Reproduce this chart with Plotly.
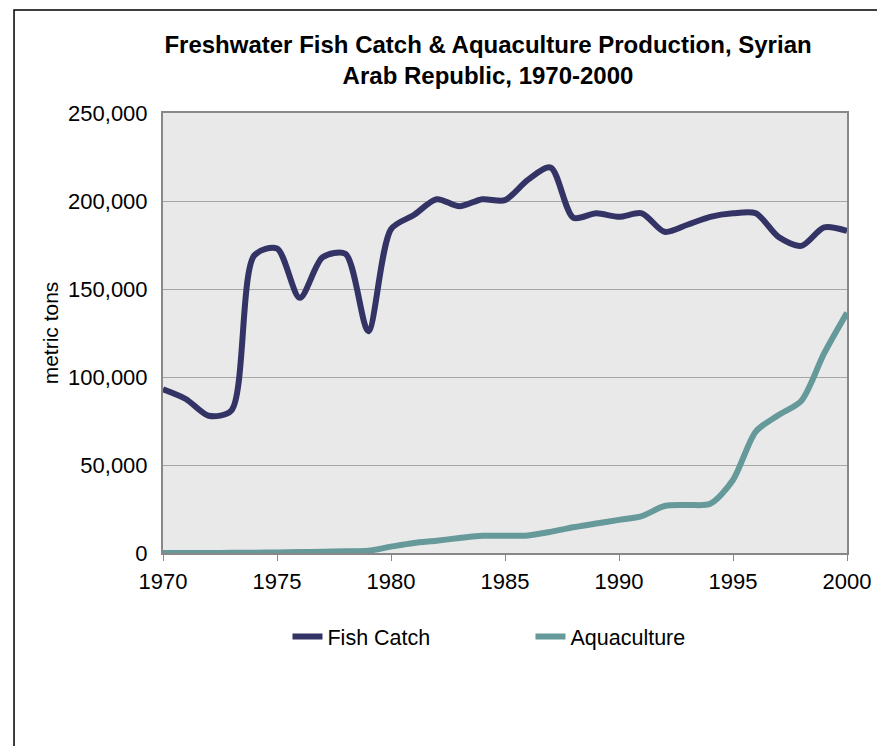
import plotly.graph_objects as go

years = list(range(1970, 2001))
fish_catch = [93000, 87500, 78000, 81000, 169000, 173000, 145000, 168000, 170000, 126000,
              184000, 192000, 201000, 197000, 201000, 200500, 212000, 219000, 190500, 193000,
              191000, 193000, 182500, 186500, 191000, 193000, 193000, 179500, 174500, 185000,
              183000]
aquaculture = [0, 0, 0, 100, 200, 300, 500, 700, 1000, 1300,
               3600, 5700, 7000, 8500, 9800, 9800, 10000, 12000, 14600, 16800,
               18800, 21000, 26700, 27300, 28000, 41500, 69000, 78400, 86500, 113500,
               136500]
y_ticks = [0, 50000, 100000, 150000, 200000, 250000]
y_tick_labels = ["0", "50,000", "100,000", "150,000", "200,000", "250,000"]
x_ticks = [1970, 1975, 1980, 1985, 1990, 1995, 2000]

fig = go.Figure()
fig.add_trace(go.Scatter(x=years, y=fish_catch, mode="lines", name="Fish Catch",
                         line=dict(color="#333366", width=6, shape="spline", smoothing=0.8)))
fig.add_trace(go.Scatter(x=years, y=aquaculture, mode="lines", name="Aquaculture",
                         line=dict(color="#669999", width=6, shape="spline", smoothing=0.8)))

fig.update_layout(
    width=885, height=746,
    margin=dict(l=155, r=46, t=105, b=201),
    paper_bgcolor="white",
    plot_bgcolor="#E9E9E9",
    font=dict(family="Liberation Sans, Arial, sans-serif", size=16, color="black"),
    title=dict(text="<b>Freshwater Fish Catch & Aquaculture Production, Syrian<br>Arab Republic, 1970-2000</b>",
               x=0.5424, xanchor="center", y=0.94, yanchor="middle",
               font=dict(size=24)),
    showlegend=True,
    legend=dict(orientation="h", x=0.182, y=-0.19, xanchor="left", yanchor="middle",
                entrywidth=198, entrywidthmode="pixels",
                font=dict(size=21.5), bgcolor="rgba(0,0,0,0)"),
    xaxis=dict(range=[1970, 2000], tickmode="array", tickvals=x_ticks,
               showgrid=False, zeroline=False, showline=True, linecolor="#888888", linewidth=2,
               mirror=True, ticks="outside", ticklen=6, tickcolor="#888888",
               ticklabelstandoff=2,
               tickfont=dict(size=22)),
    yaxis=dict(range=[0, 250000], tickmode="array", tickvals=y_ticks, ticktext=y_tick_labels,
               showgrid=True, gridcolor="#A6A6A6", gridwidth=1, zeroline=False,
               showline=True, linecolor="#888888", linewidth=2, mirror=True,
               ticks="outside", ticklen=9, tickcolor="rgba(0,0,0,0)",
               tickfont=dict(size=22),
               title=dict(text="metric tons", font=dict(size=21), standoff=4)),
)

fig.add_shape(type="rect", xref="paper", yref="paper",
              x0=-0.2178, x1=1.0512, y0=-0.46, y1=1.234,
              line=dict(color="black", width=1.5), fillcolor="rgba(0,0,0,0)", layer="below")

fig.write_html("out.html")
